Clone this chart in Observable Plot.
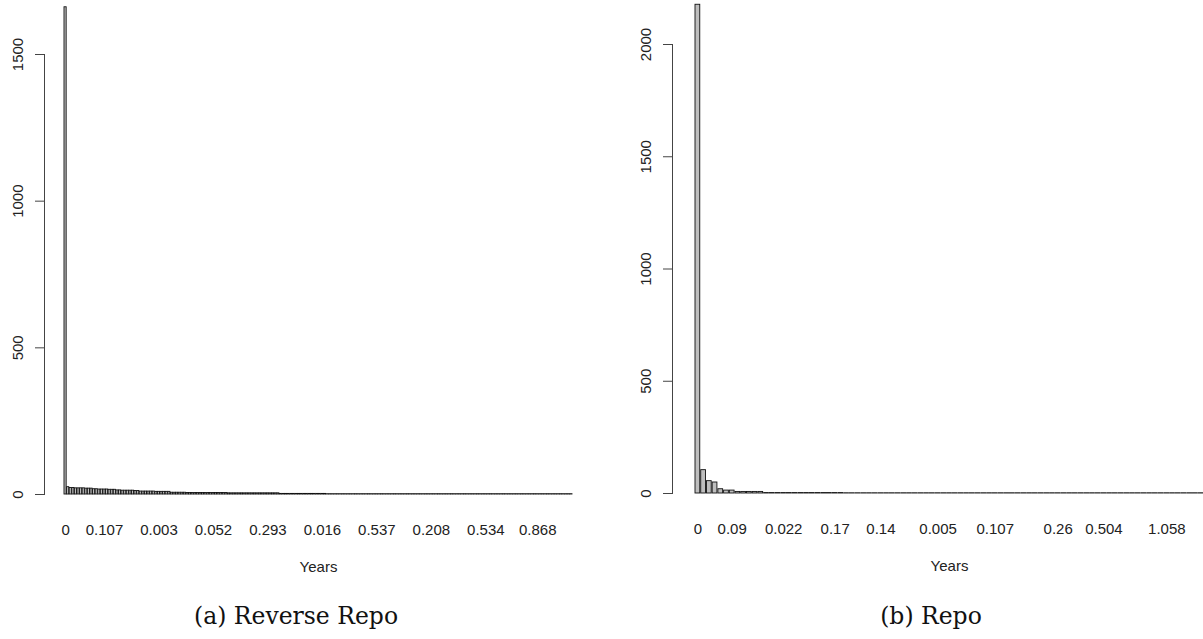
<!DOCTYPE html>
<html><head><meta charset="utf-8">
<script src="https://cdn.jsdelivr.net/npm/d3@7"></script>
<script src="https://cdn.jsdelivr.net/npm/@observablehq/plot@0.6"></script>
<style>
body{margin:0;background:#fff;}
#wrap{position:relative;width:1203px;height:639px;overflow:hidden;background:#fff;}
.panel{position:absolute;top:0;}
.cap{position:absolute;top:602px;font-family:"DejaVu Serif","Liberation Serif",serif;font-size:23.5px;color:#111;transform:translateX(-50%);white-space:nowrap;}
</style></head><body><div id="wrap"></div>
<script>
// ---- Data: counts per distinct duration (sorted by frequency) ----
const reverseRepoCounts = [
  1661, 25,
  22,22,21,21,21,21,20,20,20,
  18,18,17,17,17,17,16,16,16,
  14,14,13,13,13,13,13,12,12,
  10,10,10,10,10,10,9,9,9,9,9,9,
  6,6,6,6,6,6,5,5,5,5,5,5,5,5,5,5,5,5,5,5,5,5,4,4,4,4,4,4,4,4,4,4,4,4,4,4,4,4,4,4,4,4,
  2,2,2,2,2,2,2,2,2,2,2,2,2,2,2,2,2,2,
  1,1,1,1,1,1,1,1,1,1,1,1,1,1,1,1,1,1,1,1,1,1,1,1,1,1,1,1,1,1,
  1,1,1,1,1,1,1,1,1,1,1,1,1,1,1,1,1,1,1,1,1,1,1,1,1,1,1,1,1,1,
  1,1,1,1,1,1,1,1,1,1,1,1,1,1,1,1,1,1,1,1,1,1,1,1,1,1,1,1,1,1,
  1,1,1,1,1
];
const reverseRepoTickIndex = [0, 15, 36, 57, 78, 99, 120, 141, 162, 182];
const reverseRepoTickLabels = ["0", "0.107", "0.003", "0.052", "0.293", "0.016", "0.537", "0.208", "0.534", "0.868"];
const reverseRepoYTicks = [0, 500, 1000, 1500];

const repoCounts = [
  2177, 104, 55, 49, 19, 13, 13, 7, 7, 7, 7, 7,
  2,2,2,2,2,2,2,2,2,2,2,2,2,2,
  1,1,1,1,1,1,1,1,1,1,1,1,1,1,1,1,1,1,1,1,1,1,1,1,1,1,1,1,1,1,
  1,1,1,1,1,1,1,1,1,1,1,1,1,1,1,1,1,1,1,1,1,1,1,1,1,1,1,1,1,1,
  1,1,1
];
const repoTickIndex = [0, 6, 15, 24, 32, 42, 52, 63, 71, 82];
const repoTickLabels = ["0", "0.09", "0.022", "0.17", "0.14", "0.005", "0.107", "0.26", "0.504", "1.058"];
const repoYTicks = [0, 500, 1000, 1500, 2000];

const xTitle = "Years";
const captions = ["(a) Reverse Repo", "(b) Repo"];

function panel({counts, tickIdx, tickLabels, yTicks, width, height, marginLeft, insetLeft, marginRight, marginTop, marginBottom}) {
  const data = counts.map((c, i) => ({i, c}));
  const labelOf = new Map(tickIdx.map((k, j) => [k, tickLabels[j]]));
  return Plot.plot({
    width, height, marginLeft, marginRight, marginTop, marginBottom,
    style: {fontFamily: "'Liberation Sans', Arial, sans-serif", fontSize: "15px", color: "#222", background: "#fff", overflow: "visible"},
    x: {type: "band", domain: d3.range(counts.length), insetLeft, paddingInner: 0.167, paddingOuter: 0, align: 0},
    y: {domain: [0, d3.max(yTicks)]},
    marks: [
      Plot.barY(data, {x: "i", y: "c", fill: "#bebebe", stroke: "#111", strokeWidth: 0.9}),
      Plot.frame({anchor: "left", stroke: "#444"}),
      Plot.axisY({ticks: yTicks, tickSize: 9, tickPadding: 13, tickRotate: -90, label: null, tickFormat: d => String(d), stroke: "#444"}),
      Plot.axisX({ticks: tickIdx, tickSize: 0, tickPadding: 30, tickFormat: d => labelOf.get(d), label: null}),
      Plot.text([xTitle], {frameAnchor: "bottom", dy: 77, dx: insetLeft / 2, fontSize: 15, fill: "#222"})
    ]
  });
}

const wrap = document.getElementById("wrap");
const left = panel({counts: reverseRepoCounts, tickIdx: reverseRepoTickIndex, tickLabels: reverseRepoTickLabels, yTicks: reverseRepoYTicks,
  width: 600, height: 590, marginLeft: 44, insetLeft: 20, marginRight: 28, marginTop: 54, marginBottom: 96});
left.classList.add("panel"); left.style.left = "0px";
wrap.appendChild(left);

const right = panel({counts: repoCounts, tickIdx: repoTickIndex, tickLabels: repoTickLabels, yTicks: repoYTicks,
  width: 603, height: 590, marginLeft: 72, insetLeft: 23, marginRight: 0, marginTop: 44, marginBottom: 97});
right.classList.add("panel"); right.style.left = "600px";
wrap.appendChild(right);

[[captions[0], 296], [captions[1], 931]].forEach(([t, x]) => {
  const d = document.createElement("div");
  d.className = "cap"; d.textContent = t; d.style.left = x + "px";
  wrap.appendChild(d);
});
</script>
</body></html>
